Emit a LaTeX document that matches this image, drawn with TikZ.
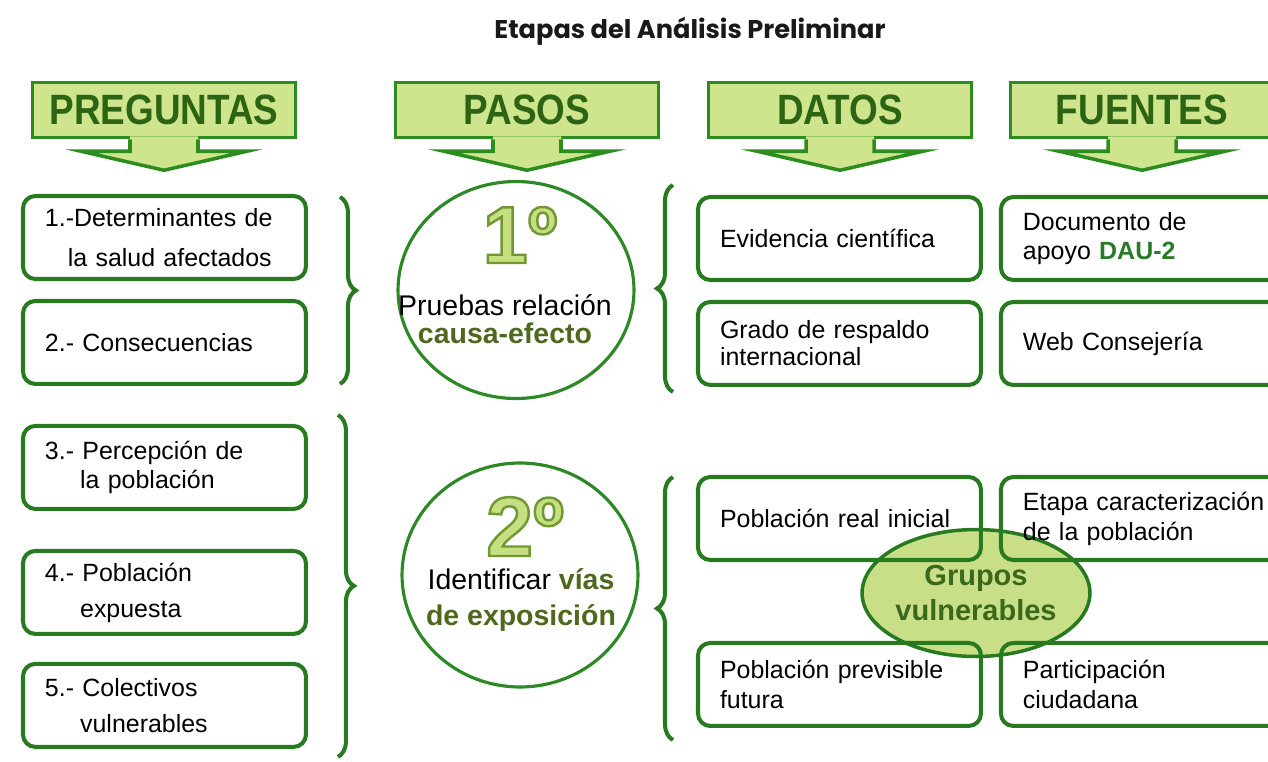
\documentclass[tikz,border=0pt]{standalone}
\usepackage{fontspec}
\setmainfont{Liberation Sans}
\newfontfamily\titlefont{Poppins}
\usepackage{graphicx}
\usetikzlibrary{positioning,calc,shapes.geometric,decorations.pathreplacing}
\definecolor{boxgreen}{RGB}{40,122,32}
\definecolor{ringgreen}{RGB}{45,136,38}
\definecolor{headfill}{RGB}{206,229,142}
\definecolor{headline}{RGB}{44,140,30}
\definecolor{headtext}{RGB}{44,100,20}
\definecolor{stepolive}{RGB}{78,104,30}
\definecolor{digitfill}{RGB}{198,223,128}
\definecolor{grupofill}{RGB}{200,223,136}
\definecolor{grupotext}{RGB}{58,104,28}
\definecolor{daugreen}{RGB}{40,122,40}
\newcommand{\outlined}[1]{\special{pdf:literal direct 2 Tr 1.4 w 0.44 0.6 0.2 RG}#1\special{pdf:literal direct 0 Tr}}

\begin{document}
\begin{tikzpicture}[x=0.02cm,y=-0.02cm]
\tikzstyle{head}=[rectangle, draw=headline, fill=headfill, line width=2pt, minimum width=5.26cm, minimum height=1.1cm, text=headtext, font=\fontsize{21}{21}\selectfont\bfseries]
\tikzstyle{qbox}=[rectangle, rounded corners=7pt, draw=boxgreen, line width=2.3pt, outer sep=0pt, text width=4.78cm, inner xsep=0.44cm, minimum height=1.66cm, align=left, font=\fontsize{14.2}{17}\selectfont]
\tikzstyle{fbox}=[qbox, text width=5.3cm]
\tikzstyle{ring}=[ellipse, draw=ringgreen, line width=1.8pt, minimum width=4.72cm, minimum height=4.34cm]
\tikzstyle{digit}=[text=digitfill, inner sep=0pt, anchor=base]
\tikzstyle{curly}=[decorate, decoration={brace, amplitude=0.32cm}, draw=boxgreen, line width=2.3pt]
  \path[fill=white, use as bounding box] (0,0) rectangle (1268,761);

  \node[font=\titlefont\fontsize{14.6}{14.6}\selectfont\bfseries, text=black!90] (title) at (690,31) {Etapas del Análisis Preliminar};

  \foreach \nm/\cx/\lbl in {preg/164/PREGUNTAS, pasos/527/PASOS, datos/840/DATOS, fuen/1142/FUENTES}{
    \node[head] (\nm) at (\cx,110) {\scalebox{1}[1.15]{\lbl}};
    \fill[headfill] ($(\nm.south)+(-34,-3)$) -- ($(\nm.south)+(-34,12)$) -- ($(\nm.south)+(-83,12)$) -- ($(\nm.south)+(0,31)$)
      -- ($(\nm.south)+(83,12)$) -- ($(\nm.south)+(34,12)$) -- ($(\nm.south)+(34,-3)$) -- cycle;
    \draw[headline, line width=2pt] ($(\nm.south)+(-34,0)$) -- ($(\nm.south)+(-34,12)$) -- ($(\nm.south)+(-83,12)$) -- ($(\nm.south)+(0,31)$)
      -- ($(\nm.south)+(83,12)$) -- ($(\nm.south)+(34,12)$) -- ($(\nm.south)+(34,0)$);
  }

  \node[qbox, anchor=north west, font=\fontsize{14.2}{22.7}\selectfont] (q1) at (23,196) {1.-Determinantes de\\\hspace*{13pt}la salud afectados};
  \node[qbox, below=0.44cm of q1] (q2) {2.- Consecuencias};
  \node[qbox, below=0.84cm of q2] (q3) {3.- Percepción de\\\hspace*{20pt}la población};
  \node[qbox, below=0.84cm of q3, font=\fontsize{14.2}{20.5}\selectfont] (q4) {4.- Población\\\hspace*{20pt}expuesta};
  \node[qbox, below=0.6cm of q4, font=\fontsize{14.2}{20.5}\selectfont] (q5) {5.- Colectivos\\\hspace*{20pt}vulnerables};

  \node[ring] (c1) at (516,290) {};
  \node[digit, font=\fontsize{46}{46}\selectfont\bfseries] (n1) at (520,263) {\outlined{1º}};
  \node[align=center, font=\fontsize{16.2}{16}\selectfont] (t1) at (505,319) {Pruebas relación\\{\bfseries\color{stepolive}causa-efecto}};
  \node[ring, minimum height=4.48cm] (c2) at (520,575) {};
  \node[digit, font=\fontsize{48}{48}\selectfont\bfseries] (n2) at (525,556) {\outlined{2º}};
  \node[align=center, font=\fontsize{16.2}{20}\selectfont] (t2) at (521,600) {Identificar {\bfseries\color{stepolive}vías}\\{\bfseries\color{stepolive}de exposición}};

  \node[qbox, anchor=north west] (d1) at (698,197) {Evidencia científica};
  \node[qbox, below=0.44cm of d1, font=\fontsize{14.2}{15.4}\selectfont] (d2) {Grado de respaldo\\internacional};
  \node[fbox, right=0.4cm of d1, font=\fontsize{14.2}{16}\selectfont] (f1) {Documento de\\apoyo {\bfseries\color{daugreen}DAU-2}};
  \node[fbox, right=0.4cm of d2] (f2) {Web Consejería};

  \node[ellipse, draw=boxgreen, fill=grupofill, line width=2pt, inner sep=0pt, minimum width=4.44cm, minimum height=2.54cm, align=center, text=grupotext, font=\fontsize{16.5}{20}\selectfont\bfseries] (grupos) at (976,593) {Grupos\\vulnerables};

  \node[qbox, anchor=north west] (d3) at (698,477) {Población real inicial};
  \node[qbox, below=1.66cm of d3] (d4) {Población previsible\\futura};
  \node[fbox, right=0.4cm of d3] (f3) {Etapa caracterización\\de la población};
  \node[fbox, right=0.4cm of d4] (f4) {Participación\\ciudadana};

  \draw[curly] ($(q1.north east)+(34,1)$) -- ($(q2.south east)+(34,0)$);
  \draw[curly] ($(q3.north east)+(32,-11)$) -- ($(q5.south east)+(32,10)$);
  \draw[curly] ($(d2.south west)+(-25,7)$) -- ($(d1.north west)+(-25,-12)$);
  \draw[curly] ($(d4.south west)+(-25,14)$) -- ($(d3.north west)+(-25,0)$);
\end{tikzpicture}
\end{document}
